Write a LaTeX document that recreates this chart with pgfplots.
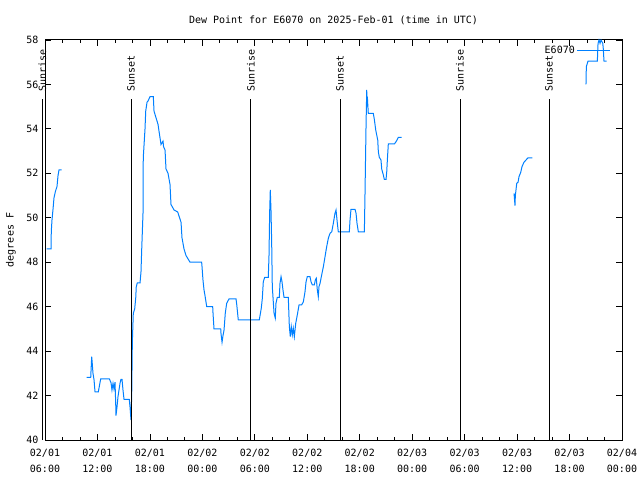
\documentclass[border=0pt]{standalone}
\usepackage{fontspec}
\setmainfont{DejaVu Sans Mono}
\usepackage{pgfplots}
\usepackage{pgfplotstable}
\pgfplotsset{compat=1.18}
\definecolor{dew}{RGB}{0,128,255}
\pgfplotstableread{
h v
6.19 48.6
6.69 48.6
6.72 49.4
6.80 49.9
6.92 50.4
7.03 50.9
7.20 51.2
7.37 51.4
7.49 51.9
7.60 52.15
7.89 52.15
8.00 nan
10.77 42.82
11.23 42.82
11.34 43.75
11.38 43.57
11.49 43.0
11.61 42.7
11.72 42.17
12.10 42.17
12.37 42.75
13.36 42.75
13.55 42.58
13.66 42.25
13.78 42.55
13.89 42.3
14.01 42.6
14.09 41.6
14.12 41.1
14.24 41.5
14.35 41.95
14.58 42.55
14.69 42.73
14.81 42.73
14.92 42.25
15.04 41.83
15.64 41.83
15.72 41.5
15.84 40.9
15.92 42.1
15.99 44.4
16.10 45.7
16.26 45.9
16.38 46.4
16.44 46.9
16.56 47.07
16.87 47.07
16.98 47.57
17.06 48.55
17.21 50.2
17.24 52.7
17.44 54.0
17.52 54.8
17.67 55.2
17.78 55.25
18.01 55.45
18.39 55.45
18.47 54.8
18.70 54.5
18.93 54.2
19.04 53.9
19.27 53.3
19.50 53.45
19.56 53.2
19.73 53.05
19.84 52.2
20.07 52.0
20.30 51.5
20.41 50.6
20.76 50.35
21.18 50.26
21.56 49.8
21.67 49.1
21.90 48.6
22.13 48.3
22.59 48.0
23.92 48.0
23.96 47.8
24.07 47.2
24.19 46.75
24.30 46.5
24.50 46.0
25.18 46.0
25.22 45.7
25.33 45.0
26.10 45.0
26.13 44.8
26.25 44.4
26.36 44.7
26.48 44.95
26.62 45.7
26.78 46.15
27.05 46.35
27.85 46.35
27.93 46.1
28.11 45.4
30.51 45.4
30.74 45.93
30.86 46.38
30.97 47.12
31.13 47.32
31.54 47.32
31.62 48.25
31.70 50.27
31.77 51.25
31.85 50.35
31.93 48.85
32.00 46.9
32.20 45.7
32.34 45.48
32.42 46.15
32.57 46.42
32.80 46.42
32.88 47.05
33.00 47.35
33.11 47.12
33.22 46.75
33.34 46.42
33.83 46.42
33.95 45.1
34.06 44.65
34.17 45.1
34.29 44.73
34.40 45.03
34.52 44.65
34.68 45.25
34.86 45.63
35.06 46.08
35.36 46.08
35.55 46.22
35.74 46.67
35.86 47.12
36.00 47.35
36.31 47.35
36.43 47.12
36.58 46.98
36.81 46.98
36.92 47.2
37.03 47.28
37.15 46.75
37.26 46.45
37.34 46.9
37.46 47.05
37.65 47.43
37.84 47.8
38.03 48.25
38.22 48.7
38.41 49.08
38.60 49.3
38.80 49.37
38.98 49.75
39.17 50.2
39.29 50.35
39.44 49.75
39.55 49.37
40.81 49.37
40.89 49.9
41.00 50.38
41.46 50.38
41.58 50.2
41.69 49.75
41.84 49.37
42.53 49.37
42.60 50.98
42.72 54.1
42.80 55.75
42.83 55.0
42.87 55.45
42.98 54.7
43.55 54.7
43.67 54.43
43.83 53.95
43.94 53.73
44.06 53.5
44.13 52.97
44.24 52.72
44.43 52.6
44.52 52.18
44.70 51.93
44.81 51.73
45.01 51.73
45.09 52.07
45.16 52.6
45.27 53.32
45.96 53.32
46.15 53.42
46.30 53.53
46.41 53.62
46.80 53.62
47.00 nan
59.65 51.1
59.76 50.55
59.80 51.0
59.96 51.55
60.11 51.6
60.22 51.85
60.42 52.05
60.56 52.3
60.79 52.5
61.02 52.6
61.25 52.7
61.74 52.7
62.00 nan
67.88 56.0
67.92 56.8
68.11 57.05
69.18 57.05
69.26 57.85
69.37 58.0
69.49 57.85
69.60 58.0
69.80 57.85
69.86 57.6
69.94 57.05
70.25 57.05
}\dewdata
\begin{document}
\fontsize{10bp}{12bp}\selectfont
\begin{tikzpicture}
\path[use as bounding box] (0,0) rectangle (640bp,480bp);
\begin{axis}[
  at={(45bp,40bp)}, anchor=south west,
  scale only axis, width=577bp, height=400bp,
  xmin=6, xmax=72, ymin=40, ymax=58,
  xtick={6,12,...,72},
  xticklabels={{02/01\\06:00},{02/01\\12:00},{02/01\\18:00},{02/02\\00:00},{02/02\\06:00},{02/02\\12:00},{02/02\\18:00},{02/03\\00:00},{02/03\\06:00},{02/03\\12:00},{02/03\\18:00},{02/04\\00:00}},
  xticklabel style={align=center, font=\fontsize{10bp}{16bp}\selectfont, yshift=-6bp},
  yticklabel style={font=\fontsize{10bp}{12bp}\selectfont, xshift=-3bp},
  minor x tick num=2,
  ytick={40,42,...,58},
  major tick length=6bp, minor tick length=3bp,
  tick style={black, line width=0.8bp},
  axis line style={line width=1bp},
  clip=false,
  unbounded coords=jump,
  ylabel={degrees F},
  ylabel style={at={(axis description cs:-0.059,0.5)}, anchor=center, font=\fontsize{10bp}{12bp}\selectfont},
  title={Dew Point for E6070 on 2025-Feb-01 (time in UTC)},
  title style={at={(axis description cs:0.5,1)}, anchor=center, yshift=14bp, font=\fontsize{10bp}{12bp}\selectfont},
  legend style={draw=none, fill=none, at={(axis description cs:1,1)}, anchor=north east, xshift=-8bp, yshift=-2bp, font=\fontsize{10bp}{12bp}\selectfont},
  legend plot pos=right,
  legend image code/.code={\path (-5bp,0bp) -- (0bp,0bp); \draw[#1] (0bp,0bp) -- (28bp,0bp);},
  /pgf/number format/assume math mode=true,
]
\addplot[dew, line width=1bp] table[x=h, y=v] {\dewdata};
\addlegendentry{E6070}
\foreach \t/\lab in {5.71/Sunrise,15.84/Sunset,29.56/Sunrise,39.75/Sunset,53.47/Sunrise,63.65/Sunset}{
  \edef\tmp{\noexpand\draw[black, line width=1bp] (axis cs:\t,40) -- (axis cs:\t,55.35);
  \noexpand\node[rotate=90, anchor=west, inner sep=0pt, font=\noexpand\fontsize{10bp}{12bp}\noexpand\selectfont] at (axis cs:\t,55.66) {\lab};}
  \tmp
}
\end{axis}
\end{tikzpicture}
\end{document}
